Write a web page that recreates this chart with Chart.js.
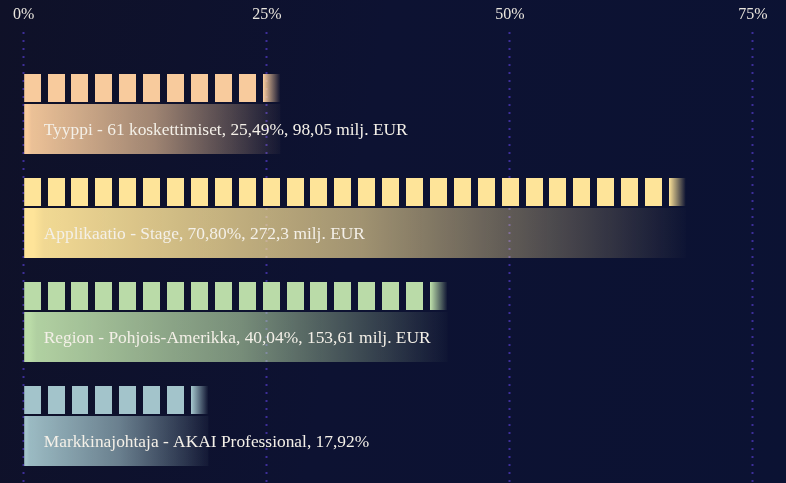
<!DOCTYPE html>
<html lang="fi">
<head>
    <meta charset="UTF-8">
    <title>Markkinaosuudet</title>
    <style>
        html, body {
            margin: 0;
            padding: 0;
            width: 786px;
            height: 483px;
            overflow: hidden;
        }

        body {
            background: linear-gradient(100deg, #0f1128 0%, #0d1232 45%, #0b1233 100%);
        }

        #wrap {
            position: relative;
            width: 786px;
            height: 483px;
        }
    </style>
</head>
<body>
<div id="wrap">
    <canvas id="chart"></canvas>
</div>

<script src="https://cdn.jsdelivr.net/npm/chart.js"></script>
<script>
    // categories and values
    var categories = ['Tyyppi', 'Applikaatio', 'Region', 'Markkinajohtaja'];
    var barValues = [26.4, 68.1, 43.6, 19.0];
    var barLabels = [
        'Tyyppi - 61 koskettimiset, 25,49%, 98,05 milj. EUR',
        'Applikaatio - Stage, 70,80%, 272,3 milj. EUR',
        'Region - Pohjois-Amerikka, 40,04%, 153,61 milj. EUR',
        'Markkinajohtaja - AKAI Professional, 17,92%'
    ];
    var barColors = ['248,203,157', '254,228,153', '186,219,168', '163,196,203'];
    var xTicks = [0, 25, 50, 75];

    var SEG_W = 17;      // width of one block
    var SEG_STEP = 23.9; // block + gap
    var FONT = '"Liberation Serif", "DejaVu Serif", serif';

    function rgba(rgb, a) {
        return 'rgba(' + rgb + ',' + a + ')';
    }

    function barEnds(c) {
        var xs = c.chart.scales.x;
        if (c.type !== 'data' || !xs || !c.chart.chartArea) return null;
        var x0 = xs.getPixelForValue(0);
        var x1 = xs.getPixelForValue(barValues[c.dataIndex]);
        if (!isFinite(x0) || !isFinite(x1) || x1 - x0 < 1) return null;
        return [x0, x1];
    }

    // blocks along the bar, last block fades out
    function blockFill(c) {
        var rgb = barColors[c.dataIndex] || barColors[0];
        var ends = barEnds(c);
        if (!ends) return rgba(rgb, 1);
        var x0 = ends[0], len = ends[1] - ends[0];
        var fadeFrom = len - SEG_W;
        var alphaAt = function (p) {
            return p <= fadeFrom ? 1 : Math.max(0, (len - p) / SEG_W);
        };
        var g = c.chart.ctx.createLinearGradient(x0, 0, ends[1], 0);
        for (var s = 0; s < len; s += SEG_STEP) {
            var e = Math.min(s + SEG_W, len);
            g.addColorStop(s / len, rgba(rgb, 0));
            g.addColorStop(s / len, rgba(rgb, alphaAt(s)));
            if (fadeFrom > s && fadeFrom < e) g.addColorStop(fadeFrom / len, rgba(rgb, 1));
            g.addColorStop(e / len, rgba(rgb, alphaAt(e)));
            if (e < len) g.addColorStop(e / len, rgba(rgb, 0));
        }
        return g;
    }

    // wide bar under the blocks, fades to the right
    function fadeFill(c) {
        var rgb = barColors[c.dataIndex] || barColors[0];
        var ends = barEnds(c);
        if (!ends) return rgba(rgb, 1);
        var g = c.chart.ctx.createLinearGradient(ends[0], 0, ends[1] + 6, 0);
        g.addColorStop(0, rgba(rgb, 1));
        g.addColorStop(0.015, rgba(rgb, 1));
        g.addColorStop(0.03, rgba(rgb, 0.95));
        g.addColorStop(0.5, rgba(rgb, 0.62));
        g.addColorStop(0.85, rgba(rgb, 0.2));
        g.addColorStop(1, rgba(rgb, 0));
        return g;
    }

    var dottedGrid = {
        id: 'dottedGrid',
        beforeDatasetsDraw: function (chart) {
            var ctx = chart.ctx;
            var xs = chart.scales.x;
            ctx.save();
            ctx.strokeStyle = 'rgba(74,54,180,0.8)';
            ctx.lineWidth = 2;
            ctx.setLineDash([2, 6]);
            xs.ticks.forEach(function (t) {
                var x = Math.round(xs.getPixelForValue(t.value)) - 0.5;
                ctx.beginPath();
                ctx.moveTo(x, 32);
                ctx.lineTo(x, chart.height);
                ctx.stroke();
            });
            ctx.restore();
        }
    };

    var barText = {
        id: 'barText',
        afterDatasetsDraw: function (chart) {
            var ctx = chart.ctx;
            var meta = chart.getDatasetMeta(1);
            ctx.save();
            ctx.font = '17.4px ' + FONT;
            ctx.fillStyle = '#f4f0e8';
            ctx.textBaseline = 'middle';
            ctx.textAlign = 'left';
            meta.data.forEach(function (bar, i) {
                ctx.fillText(barLabels[i], bar.base + 19.5, bar.y + 1);
            });
            ctx.restore();
        }
    };

    var ctx = document.getElementById('chart').getContext('2d');
    var chart = new Chart(ctx, {
        type: 'bar',
        data: {
            labels: categories,
            datasets: [{
                data: barValues,
                backgroundColor: blockFill,
                borderWidth: 0,
                categoryPercentage: 0.7885,
                barPercentage: 0.683
            }, {
                data: barValues,
                backgroundColor: fadeFill,
                borderWidth: 0,
                categoryPercentage: 0.7885,
                barPercentage: 1.2195
            }]
        },
        options: {
            indexAxis: 'y',
            responsive: true,
            maintainAspectRatio: false,
            animation: false,
            layout: {
                padding: {top: 5.4, bottom: 10.5, left: 23.7, right: 33}
            },
            plugins: {
                legend: {display: false},
                tooltip: {enabled: false}
            },
            scales: {
                x: {
                    position: 'top',
                    min: 0,
                    max: 75,
                    afterBuildTicks: function (scale) {
                        scale.ticks = xTicks.map(function (v) { return {value: v}; });
                    },
                    ticks: {
                        padding: 0,
                        color: '#e9e5dd',
                        font: {family: FONT, size: 16},
                        callback: function (v) { return v + '%'; }
                    },
                    grid: {
                        drawOnChartArea: false,
                        drawTicks: true,
                        tickLength: 32,
                        tickColor: 'transparent'
                    },
                    border: {display: false}
                },
                y: {
                    display: false
                }
            }
        },
        plugins: [dottedGrid, barText]
    });
</script>
</body>
</html>
